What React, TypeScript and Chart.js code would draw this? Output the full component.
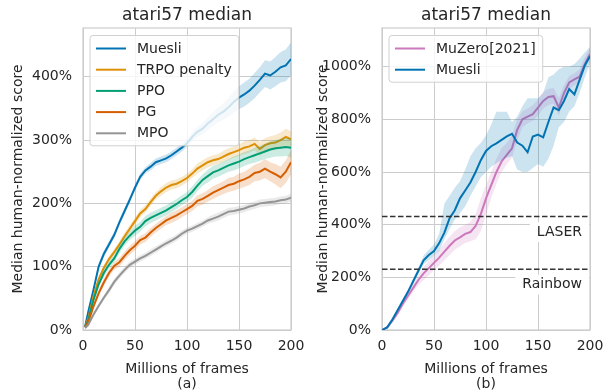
import React, { useEffect, useRef } from "react";
import { Chart, registerables } from "chart.js";

Chart.register(...registerables);

// ---------- data: panel (a) ----------
const framesA = [2, 5, 10, 15, 20, 25, 30, 35, 40, 45, 50, 55, 60, 65, 70, 75, 80, 85, 90, 95, 100, 105, 110, 115, 120, 125, 130, 135, 140, 145, 150, 155, 160, 165, 170, 175, 180, 185, 190, 195, 200];
const muesliA = [5, 28, 63, 100, 120, 135, 150, 170, 188, 206, 225, 242, 252, 258, 265, 268, 271, 276, 282, 288, 295, 305, 313, 318, 326, 333, 340, 345, 352, 360, 367, 372, 378, 386, 395, 405, 402, 408, 415, 418, 428];
const trpoA = [5, 18, 53, 80, 98, 112, 123, 135, 148, 160, 172, 184, 191, 202, 212, 219, 225, 229, 231, 235, 240, 247, 255, 260, 265, 268, 270, 274, 278, 281, 284, 288, 290, 294, 286, 292, 295, 296, 300, 305, 301];
const ppoA = [5, 15, 47, 72, 90, 103, 113, 128, 140, 149, 157, 163, 172, 177, 181, 185, 189, 194, 199, 205, 210, 218, 228, 237, 243, 249, 252, 256, 260, 263, 266, 270, 273, 276, 279, 282, 285, 287, 288, 289, 288];
const pgA = [5, 12, 37, 58, 75, 90, 101, 107, 117, 126, 133, 142, 146, 154, 161, 167, 173, 177, 181, 186, 191, 196, 204, 207, 212, 217, 221, 225, 229, 231, 235, 238, 242, 248, 250, 255, 250, 246, 241, 250, 265];
const mpoA = [3, 8, 24, 38, 51, 63, 76, 86, 95, 103, 108, 113, 117, 122, 127, 132, 137, 141, 146, 152, 157, 160, 164, 168, 173, 176, 179, 183, 187, 188, 190, 192, 195, 197, 200, 201, 202, 203, 205, 206, 209];
// half-widths of the shaded bands
const muesliABand = [2, 3, 4, 5, 5, 5, 5, 5, 5, 5, 5, 5, 5, 6, 6, 6, 6, 6, 6, 6, 6, 7, 8, 9, 10, 11, 12, 13, 15, 17, 18, 19, 19, 20, 20, 21, 22, 23, 24, 25, 26];
const trpoABand = [2, 3, 4, 5, 5, 5, 5, 5, 6, 6, 6, 6, 6, 6, 6, 7, 7, 7, 7, 7, 7, 7, 8, 8, 8, 8, 8, 9, 9, 9, 9, 10, 10, 10, 11, 11, 11, 12, 12, 13, 13];
const ppoABand = [2, 3, 4, 5, 6, 6, 6, 7, 7, 7, 8, 8, 8, 8, 8, 8, 8, 8, 8, 8, 8, 9, 9, 9, 10, 10, 10, 10, 10, 11, 11, 11, 11, 12, 12, 12, 13, 13, 14, 14, 15];
const pgABand = [2, 3, 4, 5, 6, 6, 6, 7, 7, 7, 7, 7, 7, 7, 7, 7, 7, 8, 8, 8, 8, 8, 9, 9, 9, 10, 10, 10, 11, 11, 12, 12, 13, 13, 14, 15, 15, 16, 17, 18, 19];
const mpoABand = [2, 3, 3, 4, 4, 5, 5, 5, 5, 5, 5, 5, 5, 5, 5, 5, 5, 5, 5, 5, 5, 5, 5, 5, 5, 6, 6, 6, 6, 6, 6, 6, 6, 6, 6, 6, 6, 6, 6, 6, 6];

// ---------- data: panel (b) ----------
const framesB = [0, 5, 10, 15, 20, 25, 30, 35, 40, 45, 50, 55, 60, 65, 70, 75, 80, 85, 90, 95, 100, 105, 110, 115, 120, 125, 130, 135, 140, 145, 150, 155, 160, 165, 170, 175, 180, 185, 190, 195, 200];
const muzeroB = [0, 10, 35, 65, 100, 130, 160, 190, 215, 235, 255, 275, 298, 320, 340, 352, 365, 372, 395, 440, 500, 550, 600, 640, 665, 690, 760, 800, 810, 820, 845, 870, 885, 888, 845, 900, 940, 952, 962, 1010, 1048];
const muzeroBLo = [0, 5, 28, 55, 88, 116, 145, 172, 190, 208, 228, 245, 265, 285, 305, 318, 330, 337, 345, 375, 440, 500, 555, 600, 630, 655, 720, 770, 785, 795, 815, 840, 855, 860, 815, 870, 915, 930, 940, 990, 1030];
const muzeroBHi = [0, 15, 42, 75, 112, 144, 175, 208, 240, 262, 282, 305, 330, 355, 375, 390, 400, 410, 440, 500, 550, 600, 650, 690, 710, 740, 800, 830, 840, 855, 875, 905, 915, 920, 880, 930, 965, 975, 990, 1035, 1070];
const muesliB = [0, 10, 40, 75, 110, 145, 185, 225, 265, 285, 300, 330, 370, 425, 455, 500, 530, 560, 600, 645, 680, 698, 709, 722, 735, 745, 712, 700, 675, 735, 742, 732, 790, 845, 835, 870, 915, 895, 950, 1005, 1040];
const muesliBLo = [0, 5, 33, 68, 102, 136, 175, 213, 250, 265, 282, 300, 345, 385, 420, 443, 470, 510, 545, 580, 600, 620, 633, 645, 655, 660, 610, 600, 600, 615, 630, 620, 650, 700, 770, 790, 830, 850, 900, 960, 1010];
const muesliBHi = [0, 15, 47, 82, 118, 154, 195, 237, 283, 305, 325, 365, 480, 510, 540, 565, 610, 660, 690, 710, 740, 780, 829, 829, 829, 790, 810, 850, 880, 880, 880, 900, 960, 970, 990, 1000, 1000, 1010, 1030, 1055, 1075];
const baselineNames = ["LASER", "Rainbow"];
const baselineValues = [431, 231];

// ---------- labels ----------
const titleText = "atari57 median";
const xTitleA = ["Millions of frames", "(a)"];
const xTitleB = ["Millions of frames", "(b)"];
const yTitle = "Median human-normalized score";
const xTicks = [0, 50, 100, 150, 200];

const FONT = "'DejaVu Sans', 'Liberation Sans', sans-serif";
const TEXT = "#262626";
const GRID = "#cccccc";

Chart.defaults.font.family = FONT;
Chart.defaults.color = TEXT;

type Series = { name: string; color: string; values: number[]; lo: number[]; hi: number[] };

function hexA(hex: string, a: number) {
  const n = parseInt(hex.slice(1), 16);
  return `rgba(${(n >> 16) & 255},${(n >> 8) & 255},${n & 255},${a})`;
}

function pts(xs: number[], ys: number[]) {
  return xs.map((x, i) => ({ x, y: ys[i] }));
}

function buildDatasets(xs: number[], series: Series[]) {
  const ds: any[] = [];
  series.forEach((s) => {
    ds.push({ label: s.name + " hi", data: pts(xs, s.hi), borderWidth: 0, borderColor: "rgba(0,0,0,0)", pointRadius: 0, fill: false });
    ds.push({ label: s.name + " lo", data: pts(xs, s.lo), borderWidth: 0, borderColor: hexA(s.color, 0.15), pointRadius: 0, fill: "-1", backgroundColor: hexA(s.color, 0.2) });
    ds.push({ label: s.name, data: pts(xs, s.values), borderWidth: 2, borderColor: s.color, pointRadius: 0, fill: false });
  });
  const n = ds.length;
  ds.forEach((d, i) => (d.order = n - i));
  return ds;
}

const framePlugin = {
  id: "frame",
  beforeDatasetsDraw(chart: any) {
    const { ctx, chartArea: a } = chart;
    ctx.save();
    ctx.strokeStyle = GRID;
    ctx.lineWidth = 1.2;
    ctx.strokeRect(a.left, a.top, a.right - a.left, a.bottom - a.top);
    ctx.restore();
  },
};

function legendPlugin(items: { label: string; color: string }[]) {
  return {
    id: "boxLegend",
    afterDraw(chart: any) {
      const { ctx, chartArea: a } = chart;
      ctx.save();
      ctx.font = `14px ${FONT}`;
      const maxW = Math.max(...items.map((i) => ctx.measureText(i.label).width));
      const x0 = a.left + 7;
      const y0 = a.top + 7.5;
      const w = 47 + maxW + 7;
      const h = 13 + 21.2 * (items.length - 1) + 12.5;
      ctx.beginPath();
      (ctx as any).roundRect(x0, y0, w, h, 3);
      ctx.fillStyle = "rgba(255,255,255,0.8)";
      ctx.fill();
      ctx.strokeStyle = "#d0d0d0";
      ctx.lineWidth = 1;
      ctx.stroke();
      items.forEach((it, i) => {
        const y = y0 + 13 + 21.2 * i;
        ctx.beginPath();
        ctx.moveTo(x0 + 6, y);
        ctx.lineTo(x0 + 36, y);
        ctx.strokeStyle = it.color;
        ctx.lineWidth = 2;
        ctx.stroke();
        ctx.fillStyle = TEXT;
        ctx.textBaseline = "middle";
        ctx.textAlign = "left";
        ctx.fillText(it.label, x0 + 47, y + 0.5);
      });
      ctx.restore();
    },
  };
}

const baselinePlugin = {
  id: "baselines",
  afterDatasetsDraw(chart: any) {
    const { ctx, chartArea: a, scales } = chart;
    ctx.save();
    baselineValues.forEach((v, i) => {
      const y = scales.y.getPixelForValue(v);
      ctx.font = `14px ${FONT}`;
      const label = baselineNames[i];
      const tw = ctx.measureText(label).width;
      const tx = a.right - 8;
      const ty = y + 15.5;
      ctx.fillStyle = "#ffffff";
      ctx.fillRect(tx - tw - 7, ty - 10, tw + 14, 20);
      ctx.fillStyle = TEXT;
      ctx.textAlign = "right";
      ctx.textBaseline = "middle";
      ctx.fillText(label, tx, ty);
      ctx.beginPath();
      ctx.setLineDash([5.5, 2.5]);
      ctx.strokeStyle = "#333333";
      ctx.lineWidth = 1.5;
      ctx.moveTo(a.left, y);
      ctx.lineTo(a.right, y);
      ctx.stroke();
      ctx.setLineDash([]);
    });
    ctx.restore();
  },
};

function makeConfig(opts: {
  xs: number[];
  series: Series[];
  yMax: number;
  yStep: number;
  yWidth: number;
  padRight: number;
  xTitle: string[];
  extra: any[];
}) {
  return {
    type: "line",
    data: { datasets: buildDatasets(opts.xs, opts.series) },
    options: {
      animation: false,
      responsive: false,
      maintainAspectRatio: false,
      events: [],
      layout: { padding: { left: 0, right: opts.padRight, top: 0, bottom: 0 }, autoPadding: false },
      plugins: {
        legend: { display: false },
        tooltip: { enabled: false },
        title: {
          display: true,
          text: titleText,
          color: TEXT,
          fullSize: false,
          font: { size: 17, weight: "normal" },
          padding: { top: 5, bottom: 2.6 },
        },
      },
      scales: {
        x: {
          type: "linear",
          min: 0,
          max: 200,
          afterBuildTicks: (s: any) => {
            s.ticks = xTicks.map((v) => ({ value: v }));
          },
          ticks: { color: TEXT, font: { size: 14 }, padding: 8, maxRotation: 0 },
          grid: { color: GRID, drawTicks: false, lineWidth: 1 },
          border: { display: false },
          title: {
            display: true,
            text: opts.xTitle,
            color: TEXT,
            font: { size: 14, lineHeight: 1.1 },
            padding: { top: 0, bottom: -1.5 },
          },
          afterFit: (s: any) => {
            s.height = 61;
            s.paddingLeft = 0;
            s.paddingRight = 0;
          },
        },
        y: {
          type: "linear",
          min: 0,
          max: opts.yMax,
          ticks: {
            stepSize: opts.yStep,
            includeBounds: false,
            color: TEXT,
            font: { size: 14 },
            padding: 11,
            callback: (v: any) => v + "%",
          },
          grid: { color: GRID, drawTicks: false, lineWidth: 1 },
          border: { display: false },
          title: { display: true, text: yTitle, color: TEXT, font: { size: 14 }, padding: { top: 10, bottom: 0 } },
          afterFit: (s: any) => {
            s.width = opts.yWidth;
            s.paddingTop = 0;
            s.paddingBottom = 0;
          },
        },
      },
    },
    plugins: [framePlugin, ...opts.extra],
  };
}

function ChartCanvas({ width, height, build }: { width: number; height: number; build: () => any }) {
  const ref = useRef<HTMLCanvasElement>(null);
  useEffect(() => {
    const chart = new Chart(ref.current as HTMLCanvasElement, build());
    return () => chart.destroy();
  }, []);
  return <canvas ref={ref} width={width} height={height} style={{ display: "block", width, height }} />;
}

const seriesA: Series[] = [
  { name: "Muesli", color: "#0173b2", values: muesliA, lo: muesliA.map((v, i) => v - muesliABand[i]), hi: muesliA.map((v, i) => v + muesliABand[i]) },
  { name: "TRPO penalty", color: "#de8f05", values: trpoA, lo: trpoA.map((v, i) => v - trpoABand[i]), hi: trpoA.map((v, i) => v + trpoABand[i]) },
  { name: "PPO", color: "#029e73", values: ppoA, lo: ppoA.map((v, i) => v - ppoABand[i]), hi: ppoA.map((v, i) => v + ppoABand[i]) },
  { name: "PG", color: "#d55e00", values: pgA, lo: pgA.map((v, i) => v - pgABand[i]), hi: pgA.map((v, i) => v + pgABand[i]) },
  { name: "MPO", color: "#949494", values: mpoA, lo: mpoA.map((v, i) => v - mpoABand[i]), hi: mpoA.map((v, i) => v + mpoABand[i]) },
];

const seriesB: Series[] = [
  { name: "MuZero[2021]", color: "#cc78bc", values: muzeroB, lo: muzeroBLo, hi: muzeroBHi },
  { name: "Muesli", color: "#0173b2", values: muesliB, lo: muesliBLo, hi: muesliBHi },
];

export default function App() {
  return (
    <div style={{ position: "fixed", left: 0, top: 0, width: 611, height: 391, background: "#ffffff" }}>
      <div style={{ position: "absolute", left: 0, top: 0 }}>
        <ChartCanvas
          width={305}
          height={391}
          build={() =>
            makeConfig({
              xs: framesA,
              series: seriesA,
              yMax: 477,
              yStep: 100,
              yWidth: 83,
              padRight: 14,
              xTitle: xTitleA,
              extra: [legendPlugin(seriesA.map((s) => ({ label: s.name, color: s.color })))],
            })
          }
        />
      </div>
      <div style={{ position: "absolute", left: 305, top: 0 }}>
        <ChartCanvas
          width={306}
          height={391}
          build={() =>
            makeConfig({
              xs: framesB,
              series: seriesB,
              yMax: 1147,
              yStep: 200,
              yWidth: 77,
              padRight: 21,
              xTitle: xTitleB,
              extra: [baselinePlugin, legendPlugin(seriesB.map((s) => ({ label: s.name, color: s.color })))],
            })
          }
        />
      </div>
    </div>
  );
}
